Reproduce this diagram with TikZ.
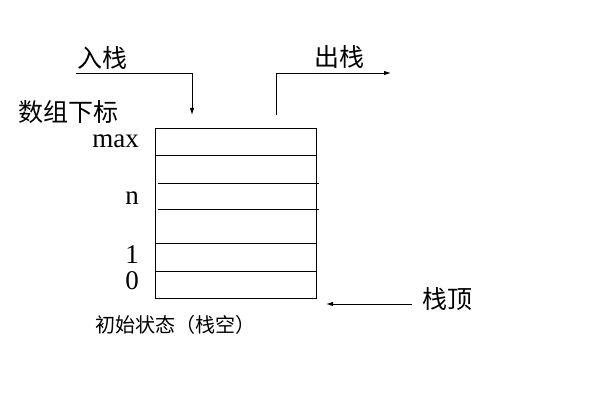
\documentclass[tikz,border=0pt]{standalone}
\usepackage{fontspec}
\setmainfont{Liberation Serif}
\newfontfamily\cjk{Noto Sans CJK SC}
\usetikzlibrary{arrows.meta}
\tikzset{
  line/.style={draw=black, line width=0.9pt},
  arr/.style={line, -{Latex[length=7pt,width=4.5pt]}},
  cjkbig/.style={font=\cjk\fontsize{25}{25}\selectfont, inner sep=0pt},
  cjksmall/.style={font=\cjk\fontsize{20}{20}\selectfont, inner sep=0pt},
  idx/.style={font=\fontsize{27}{27}\selectfont, inner sep=0pt, anchor=base east},
}
\begin{document}
\begin{tikzpicture}[x=1pt,y=-1pt]
\useasboundingbox[fill=white] (0,0) rectangle (593,411);
% stack box
\draw[line] (155,128) rectangle (316,298);
\coordinate (l1a) at (155,155); \coordinate (l1b) at (316,155);
\coordinate (l2a) at (158,183); \coordinate (l2b) at (319,183);
\coordinate (l3a) at (158,209); \coordinate (l3b) at (319,209);
\coordinate (l4a) at (155,243); \coordinate (l4b) at (316,243);
\coordinate (l5a) at (155,271); \coordinate (l5b) at (316,271);
\draw[line] (l1a) -- (l1b);
\draw[line] (l2a) -- (l2b);
\draw[line] (l3a) -- (l3b);
\draw[line] (l4a) -- (l4b);
\draw[line] (l5a) -- (l5b);
% index labels
\node[idx] (max) at (139,148) {max};
\node[idx] (n) at (139,205) {n};
\node[idx] (one) at (139,263) {1};
\node[idx] (zero) at (139,289) {0};
% texts
\node[cjkbig] (push) at (102,58) {入栈};
\node[cjkbig] (pop) at (339,57) {出栈};
\node[cjkbig] (sub) at (68,112) {数组下标};
\node[cjkbig] (top) at (447,299) {栈顶};
\node[cjksmall] (init) at (175,325) {初始状态（栈空）};
% arrows
\coordinate (pushs) at (76,73);
\coordinate (pushc) at (192,73);
\coordinate (pushe) at (192,115);
\draw[arr] (pushs) -- (pushc) -- (pushe);
\coordinate (pops) at (276,115);
\coordinate (popc) at (276,73);
\coordinate (pope) at (391,73);
\draw[arr] (pops) -- (popc) -- (pope);
\coordinate (tops) at (412,304);
\coordinate (tope) at (326,304);
\draw[arr] (tops) -- (tope);
\end{tikzpicture}
\end{document}
